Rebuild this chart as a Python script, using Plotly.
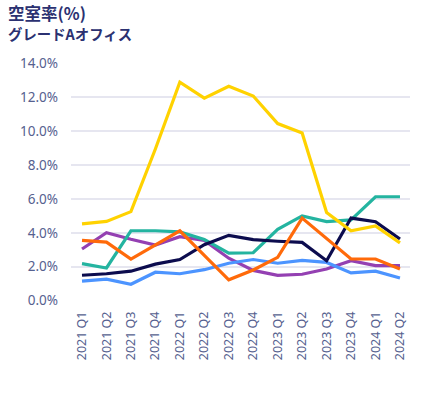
import plotly.graph_objects as go

quarters = ["2021 Q1", "2021 Q2", "2021 Q3", "2021 Q4",
            "2022 Q1", "2022 Q2", "2022 Q3", "2022 Q4",
            "2023 Q1", "2023 Q2", "2023 Q3", "2023 Q4",
            "2024 Q1", "2024 Q2"]

yellow_vals = [4.53, 4.67, 5.25, 8.95, 12.9, 11.95, 12.65, 12.08, 10.45, 9.9, 5.2, 4.12, 4.4, 3.4]
teal_vals = [2.18, 1.92, 4.12, 4.12, 4.05, 3.6, 2.8, 2.82, 4.2, 5.0, 4.66, 4.76, 6.13, 6.13]
navy_vals = [1.49, 1.58, 1.73, 2.15, 2.42, 3.3, 3.85, 3.6, 3.5, 3.43, 2.35, 4.87, 4.65, 3.63]
orange_vals = [3.55, 3.45, 2.45, 3.3, 4.12, 2.67, 1.22, 1.8, 2.55, 4.87, 3.65, 2.45, 2.45, 1.86]
purple_vals = [3.04, 4.0, 3.62, 3.28, 3.77, 3.55, 2.5, 1.78, 1.49, 1.55, 1.86, 2.35, 2.06, 2.06]
blue_vals = [1.14, 1.26, 0.96, 1.67, 1.58, 1.82, 2.2, 2.42, 2.2, 2.37, 2.25, 1.63, 1.73, 1.33]

y_ticks = [0, 2, 4, 6, 8, 10, 12, 14]
y_tick_labels = ["0.0%", "2.0%", "4.0%", "6.0%", "8.0%", "10.0%", "12.0%", "14.0%"]

series = [
    ("Purple", purple_vals, "#9440B2"),
    ("Blue", blue_vals, "#4C94FF"),
    ("Teal", teal_vals, "#24B4A0"),
    ("Navy", navy_vals, "#0C0C4E"),
    ("Orange", orange_vals, "#FF6A0A"),
    ("Yellow", yellow_vals, "#FFD200"),
]

fig = go.Figure()
for name, vals, color in series:
    fig.add_trace(go.Scatter(x=quarters, y=vals, mode="lines", name=name,
                             line=dict(color=color, width=3.2), showlegend=False))

W, H = 440, 394
L, R, T, B = 71, 30, 63, 93
tick_color = "#56618F"
fig.update_layout(
    width=W, height=H,
    margin=dict(l=L, r=R, t=T, b=B, autoexpand=False),
    paper_bgcolor="white", plot_bgcolor="white",
    font=dict(family="Noto Sans, Noto Sans CJK JP", color=tick_color),
    xaxis=dict(type="category", range=[-0.45, 13.41], tickangle=-90,
               showgrid=False, showline=False, ticks="", automargin=False,
               ticklabelstandoff=7,
               tickfont=dict(size=12.5, color=tick_color)),
    yaxis=dict(range=[-0.03, 14.03], tickvals=y_ticks, ticktext=y_tick_labels,
               showgrid=True, gridcolor="#E6E6F0", gridwidth=1.5, zeroline=False,
               showline=False, ticks="", ticklabelstandoff=12, automargin=False,
               tickfont=dict(size=13.5, color=tick_color)),
)
plot_h = H - T - B
plot_w = W - L - R
fig.add_annotation(text="<b>空室率(%)</b>", x=(7 - L) / plot_w, y=(H - B - 13) / plot_h,
                   xref="paper", yref="paper", showarrow=False, borderpad=0,
                   xanchor="left", yanchor="middle",
                   font=dict(size=16.5, color="#2B3171", family="Noto Sans CJK JP"))
fig.add_annotation(text="<b>グレードAオフィス</b>", x=(7 - L) / plot_w, y=(H - B - 33) / plot_h,
                   xref="paper", yref="paper", showarrow=False, borderpad=0,
                   xanchor="left", yanchor="middle",
                   font=dict(size=14.4, color="#2B3171", family="Noto Sans CJK JP"))

fig.write_html("out.html", config={"displayModeBar": False},
               post_script="document.body.style.margin='0px';document.body.style.overflow='hidden';")
